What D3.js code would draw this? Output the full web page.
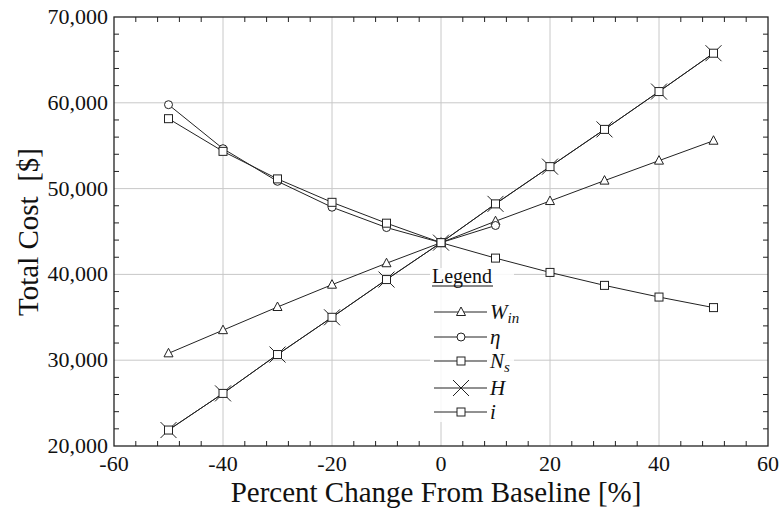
<!DOCTYPE html>
<html>
<head>
<meta charset="utf-8">
<script src="https://cdn.jsdelivr.net/npm/d3@7/dist/d3.min.js"></script>
<style>
  html, body { margin: 0; padding: 0; background: #fff; }
  svg { display: block; }
</style>
</head>
<body>
<svg id="chart" width="782" height="518"></svg>
<script>
// ---- Data ----
const pct = [-50, -40, -30, -20, -10, 0, 10, 20, 30, 40, 50];
const pctEta = [-50, -40, -30, -20, -10, 0, 10];
const costWin = [30800, 33500, 36200, 38800, 41300, 43700, 46200, 48550, 50930, 53260, 55580];
const costEta = [59780, 54650, 50850, 47830, 45460, 43700, 45700];
const costNs = [58150, 54340, 51130, 48400, 45970, 43700, 41900, 40230, 38720, 37360, 36130];
const costH = [21860, 26130, 30660, 35000, 39400, 43700, 48220, 52560, 56900, 61310, 65780];
const costI = [21860, 26130, 30660, 35000, 39400, 43700, 48220, 52560, 56900, 61310, 65780];
const xTicks = [-60, -40, -20, 0, 20, 40, 60];
const yTicks = [20000, 30000, 40000, 50000, 60000, 70000];

const series = [
  { name: "Win", sym: "triangle", xs: pct, ys: costWin },
  { name: "eta", sym: "circle", xs: pctEta, ys: costEta },
  { name: "Ns", sym: "square", xs: pct, ys: costNs },
  { name: "H", sym: "x", xs: pct, ys: costH },
  { name: "i", sym: "square", xs: pct, ys: costI }
];

// ---- Layout ----
const L = 114, R = 768, T = 17, B = 446;
const svg = d3.select("#chart");
const x = d3.scaleLinear().domain([-60, 60]).range([L, R]);
const y = d3.scaleLinear().domain([20000, 70000]).range([B, T]);

function txt(sel) {
  return sel.append("text").attr("font-family", "Liberation Serif")
    .style("font-family", '"Liberation Serif"').attr("fill", "#111");
}

// gridlines
const g = svg.append("g");
xTicks.slice(1, -1).forEach(v => {
  g.append("line").attr("x1", x(v)).attr("x2", x(v)).attr("y1", T).attr("y2", B)
    .attr("stroke", "#c8c8c8").attr("stroke-width", 1);
});
yTicks.slice(1, -1).forEach(v => {
  g.append("line").attr("x1", L).attr("x2", R).attr("y1", y(v)).attr("y2", y(v))
    .attr("stroke", "#c8c8c8").attr("stroke-width", 1);
});

// minor ticks (inward on all four sides)
const xMinor = d3.range(-60, 60.001, 4).filter(v => v % 20 !== 0);
const yMinor = d3.range(20000, 70001, 2000).filter(v => v % 10000 !== 0);
const tk = svg.append("g").attr("stroke", "#222").attr("stroke-width", 1);
xMinor.forEach(v => {
  tk.append("line").attr("x1", x(v)).attr("x2", x(v)).attr("y1", B).attr("y2", B - 5);
  tk.append("line").attr("x1", x(v)).attr("x2", x(v)).attr("y1", T).attr("y2", T + 5);
});
yMinor.forEach(v => {
  tk.append("line").attr("x1", L).attr("x2", L + 5).attr("y1", y(v)).attr("y2", y(v));
  tk.append("line").attr("x1", R).attr("x2", R - 5).attr("y1", y(v)).attr("y2", y(v));
});

// legend background (under series so gridlines are hidden)
svg.append("rect").attr("x", 430).attr("y", 268).attr("width", 84).attr("height", 154)
  .attr("fill", "#fff").attr("opacity", 0.85);

// series lines
const line = d3.line().x(d => x(d[0])).y(d => y(d[1]));
series.forEach(s => {
  const pts = s.xs.map((v, k) => [v, s.ys[k]]);
  svg.append("path").attr("d", line(pts)).attr("fill", "none")
    .attr("stroke", "#222").attr("stroke-width", 1);
});

// markers
function drawMarker(sel, sym, cx, cy) {
  if (sym === "triangle") {
    sel.append("path").attr("d", `M${cx},${cy - 5}L${cx + 4.5},${cy + 3.5}L${cx - 4.5},${cy + 3.5}Z`)
      .attr("fill", "#fff").attr("stroke", "#222").attr("stroke-width", 1);
  } else if (sym === "circle") {
    sel.append("circle").attr("cx", cx).attr("cy", cy).attr("r", 4)
      .attr("fill", "#fff").attr("stroke", "#222").attr("stroke-width", 1);
  } else if (sym === "square") {
    sel.append("rect").attr("x", cx - 4).attr("y", cy - 4).attr("width", 8).attr("height", 8)
      .attr("fill", "#fff").attr("stroke", "#222").attr("stroke-width", 1);
  } else if (sym === "x") {
    sel.append("path").attr("d", `M${cx - 8},${cy - 8}L${cx + 8},${cy + 8}M${cx + 8},${cy - 8}L${cx - 8},${cy + 8}`)
      .attr("fill", "none").attr("stroke", "#222").attr("stroke-width", 1);
  }
}
const mk = svg.append("g");
series.forEach(s => {
  s.xs.forEach((v, k) => drawMarker(mk, s.sym, x(v), y(s.ys[k])));
});

// frame
svg.append("rect").attr("x", L).attr("y", T).attr("width", R - L).attr("height", B - T)
  .attr("fill", "none").attr("stroke", "#222").attr("stroke-width", 1.3);

// tick labels
xTicks.forEach(v => {
  txt(svg).attr("x", x(v)).attr("y", 471).attr("text-anchor", "middle")
    .attr("font-size", 22).text(v);
});
const fmt = d3.format(",");
yTicks.forEach(v => {
  txt(svg).attr("x", 108).attr("y", y(v) + 7).attr("text-anchor", "end")
    .attr("font-size", 22).text(fmt(v));
});

// axis titles
txt(svg).attr("x", 436).attr("y", 502).attr("text-anchor", "middle")
  .attr("font-size", 29).text("Percent Change From Baseline [%]");
txt(svg).attr("transform", "translate(38,232) rotate(-90)").attr("text-anchor", "middle")
  .attr("font-size", 29).style("white-space", "pre").text("Total Cost  [$]");

// legend
txt(svg).attr("x", 432).attr("y", 283).attr("font-size", 20).text("Legend");
svg.append("line").attr("x1", 432).attr("x2", 493).attr("y1", 286).attr("y2", 286)
  .attr("stroke", "#111").attr("stroke-width", 1);
const rows = [
  { sym: "triangle", y: 312, main: "W", sub: "in" },
  { sym: "circle", y: 337, main: "\u03B7", sub: null },
  { sym: "square", y: 361, main: "N", sub: "s" },
  { sym: "x", y: 388, main: "H", sub: null },
  { sym: "square", y: 412, main: "i", sub: null }
];
rows.forEach(r => {
  svg.append("line").attr("x1", 434).attr("x2", 487).attr("y1", r.y).attr("y2", r.y)
    .attr("stroke", "#222").attr("stroke-width", 1);
  drawMarker(svg, r.sym, 461, r.y);
  const t = txt(svg).attr("x", 490).attr("y", r.y + 7).attr("font-size", 21)
    .attr("font-style", "italic");
  t.append("tspan").text(r.main);
  if (r.sub) t.append("tspan").attr("font-size", 15).attr("dy", 4).text(r.sub);
});
</script>
</body>
</html>
